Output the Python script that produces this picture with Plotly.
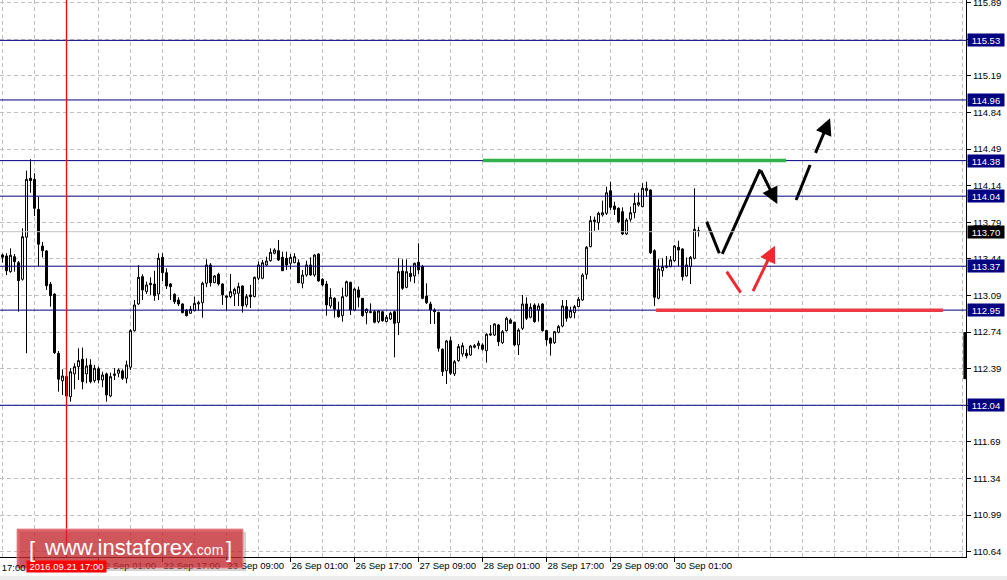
import plotly.graph_objects as go

# ---------------- data (USDJPY H1) ----------------
opens = [113.478, 113.468, 113.318, 113.461, 113.404, 113.245, 113.647, 114.211, 114.201, 113.914,
         113.563, 113.516, 113.197, 113.104, 112.537, 112.275, 112.314, 112.122, 112.340, 112.409,
         112.480, 112.340, 112.426, 112.275, 112.390, 112.282, 112.340, 112.129, 112.340, 112.346,
         112.368, 112.298, 112.404, 112.754, 113.009, 113.270, 113.127, 113.207, 113.200, 113.104,
         113.455, 113.308, 113.200, 113.102, 113.047, 113.009, 112.951, 112.920, 112.945, 113.009,
         113.021, 113.207, 113.382, 113.213, 113.293, 113.200, 113.085, 113.079, 113.104, 113.111,
         113.181, 113.000, 113.095, 113.079, 113.255, 113.255, 113.382, 113.423, 113.494, 113.519,
         113.455, 113.446, 113.398, 113.404, 113.404, 113.207, 113.286, 113.382, 113.286, 113.487,
         113.245, 113.200, 112.990, 113.063, 112.951, 112.897, 113.085, 113.216, 112.951, 113.143,
         113.063, 112.926, 112.935, 112.935, 112.840, 112.935, 112.840, 112.865, 112.935, 112.830,
         113.324, 113.168, 113.302, 113.277, 113.408, 113.366, 113.085, 113.009, 112.951, 112.929,
         112.576, 112.371, 112.658, 112.340, 112.467, 112.531, 112.537, 112.521, 112.595, 112.610,
         112.617, 112.562, 112.712, 112.712, 112.808, 112.639, 112.754, 112.856, 112.834, 112.617,
         112.776, 113.009, 112.882, 112.999, 112.951, 113.009, 112.754, 112.681, 112.639, 112.738,
         112.798, 112.983, 112.882, 112.926, 112.983, 113.047, 113.293, 113.557, 113.796, 113.786,
         113.860, 113.876, 114.092, 113.946, 113.924, 113.892, 113.678, 113.819, 113.882, 113.956,
         113.940, 114.092, 114.099, 113.519, 113.063, 113.327, 113.360, 113.366, 113.423, 113.551,
         113.535, 113.277, 113.366, 113.446, 113.710]
highs = [113.490, 113.494, 113.541, 113.487, 113.420, 113.733, 114.284, 114.393, 114.259, 114.035,
         113.602, 113.525, 113.219, 113.111, 112.559, 112.384, 112.346, 112.394, 112.442, 112.585,
         112.591, 112.489, 112.480, 112.426, 112.409, 112.361, 112.352, 112.352, 112.394, 112.394,
         112.384, 112.467, 112.767, 113.047, 113.379, 113.293, 113.222, 113.264, 113.327, 113.494,
         113.494, 113.350, 113.210, 113.110, 113.073, 113.015, 112.960, 112.990, 113.079, 113.040,
         113.222, 113.436, 113.400, 113.286, 113.308, 113.207, 113.090, 113.296, 113.165, 113.213,
         113.188, 113.104, 113.191, 113.270, 113.414, 113.430, 113.461, 113.541, 113.541, 113.621,
         113.509, 113.509, 113.487, 113.494, 113.436, 113.334, 113.423, 113.455, 113.484, 113.494,
         113.255, 113.229, 113.159, 113.073, 113.031, 113.165, 113.232, 113.222, 113.165, 113.175,
         113.063, 112.968, 113.015, 112.951, 112.951, 112.938, 112.904, 112.935, 112.945, 113.446,
         113.436, 113.436, 113.372, 113.404, 113.589, 113.382, 113.207, 113.031, 112.968, 112.935,
         112.585, 112.665, 112.696, 112.473, 112.626, 112.639, 112.576, 112.617, 112.626, 112.658,
         112.633, 112.729, 112.808, 112.824, 112.818, 112.760, 112.887, 112.872, 112.840, 112.776,
         113.095, 113.073, 113.015, 113.015, 113.015, 113.015, 112.760, 112.690, 112.751, 112.808,
         113.047, 113.047, 112.983, 112.999, 113.073, 113.302, 113.563, 113.851, 113.844, 113.892,
         113.997, 114.131, 114.178, 113.987, 113.933, 113.933, 113.828, 113.940, 114.067, 114.073,
         114.163, 114.178, 114.106, 113.532, 113.436, 113.446, 113.468, 113.468, 113.573, 113.614,
         113.541, 113.455, 113.468, 114.115, 113.748]
lows = [113.404, 113.286, 113.308, 113.318, 112.935, 113.232, 112.537, 114.073, 113.850, 113.372,
        113.455, 113.143, 112.983, 112.531, 112.170, 112.139, 112.122, 112.075, 112.193, 112.282,
        112.193, 112.250, 112.250, 112.256, 112.250, 112.212, 112.075, 112.117, 112.282, 112.308,
        112.282, 112.250, 112.378, 112.744, 112.999, 113.047, 113.104, 113.095, 113.040, 113.047,
        113.229, 113.152, 113.047, 113.009, 112.990, 112.920, 112.890, 112.913, 112.939, 112.945,
        112.878, 113.169, 113.175, 113.207, 113.184, 113.000, 112.951, 113.063, 112.990, 112.990,
        112.926, 112.977, 112.970, 113.073, 113.238, 113.245, 113.372, 113.413, 113.484, 113.420,
        113.324, 113.334, 113.341, 113.398, 113.207, 113.159, 113.270, 113.277, 113.270, 113.222,
        113.175, 112.897, 112.968, 112.878, 112.878, 112.840, 113.079, 112.904, 112.945, 112.977,
        112.887, 112.815, 112.920, 112.824, 112.824, 112.840, 112.834, 112.856, 112.499, 112.712,
        113.143, 113.159, 113.222, 113.207, 113.296, 113.054, 113.009, 112.818, 112.818, 112.553,
        112.320, 112.244, 112.330, 112.320, 112.457, 112.505, 112.489, 112.512, 112.585, 112.576,
        112.562, 112.448, 112.703, 112.703, 112.607, 112.626, 112.744, 112.818, 112.607, 112.521,
        112.760, 112.856, 112.872, 112.830, 112.840, 112.744, 112.610, 112.515, 112.626, 112.728,
        112.786, 112.840, 112.872, 112.872, 112.977, 113.040, 113.245, 113.551, 113.710, 113.717,
        113.844, 113.860, 113.908, 113.860, 113.781, 113.669, 113.669, 113.796, 113.828, 113.940,
        113.933, 114.035, 113.487, 112.990, 113.054, 113.270, 113.350, 113.360, 113.413, 113.372,
        113.232, 113.270, 113.200, 113.436, 113.652]
closes = [113.456, 113.327, 113.475, 113.413, 113.232, 113.652, 114.201, 114.188, 113.924, 113.580,
          113.519, 113.184, 113.088, 112.543, 112.289, 112.320, 112.129, 112.361, 112.409, 112.467,
          112.266, 112.416, 112.266, 112.394, 112.282, 112.330, 112.139, 112.314, 112.327, 112.378,
          112.298, 112.426, 112.754, 112.999, 113.264, 113.143, 113.191, 113.194, 113.088, 113.446,
          113.308, 113.181, 113.174, 113.031, 113.009, 112.926, 112.897, 112.958, 113.015, 113.021,
          113.207, 113.382, 113.213, 113.277, 113.200, 113.095, 113.073, 113.127, 113.149, 113.175,
          112.990, 113.079, 113.079, 113.264, 113.382, 113.404, 113.420, 113.503, 113.525, 113.430,
          113.327, 113.382, 113.455, 113.461, 113.213, 113.286, 113.382, 113.286, 113.477, 113.229,
          113.191, 112.999, 113.073, 112.958, 112.887, 113.079, 113.222, 112.951, 113.152, 113.073,
          112.897, 112.958, 112.929, 112.834, 112.942, 112.849, 112.882, 112.920, 112.824, 113.318,
          113.159, 113.318, 113.270, 113.398, 113.334, 113.063, 113.021, 112.951, 112.935, 112.585,
          112.362, 112.655, 112.346, 112.457, 112.601, 112.610, 112.514, 112.607, 112.610, 112.633,
          112.576, 112.719, 112.722, 112.818, 112.648, 112.744, 112.872, 112.824, 112.617, 112.760,
          113.009, 112.872, 112.977, 112.840, 112.990, 112.754, 112.665, 112.633, 112.744, 112.792,
          112.990, 112.872, 112.945, 112.983, 113.054, 113.286, 113.551, 113.806, 113.812, 113.876,
          113.882, 114.073, 113.933, 113.914, 113.796, 113.678, 113.812, 113.882, 113.972, 113.978,
          114.115, 114.115, 113.499, 113.073, 113.344, 113.366, 113.372, 113.430, 113.563, 113.525,
          113.270, 113.382, 113.455, 113.723, 113.704]
bars = list(range(len(opens)))

edge_bar_index = 240.6
edge_bar_prices = [112.29, 112.74]

y_tick_values = [110.64, 110.99, 111.34, 111.69, 112.04, 112.39, 112.74, 113.09,
                 113.44, 113.79, 114.14, 114.49, 114.84, 115.19, 115.54, 115.89]
y_tick_labels = ["110.64", "110.99", "111.34", "111.69", "112.04", "112.39", "112.74", "113.09",
                 "113.44", "113.79", "114.14", "114.49", "114.84", "115.19", "115.54", "115.89"]
x_tick_bars = [8, 24, 40, 56, 72, 88, 104, 120, 136, 152, 168]
x_tick_labels = ["21 Sep 09:00", "22 Sep 01:00", "22 Sep 17:00", "23 Sep 09:00", "26 Sep 01:00",
                 "26 Sep 17:00", "27 Sep 09:00", "28 Sep 01:00", "28 Sep 17:00", "29 Sep 09:00",
                 "30 Sep 01:00"]
offscreen_label = "20 Sep 17:00"

level_prices = [115.53, 114.96, 114.38, 114.04, 113.37, 112.95, 112.04]
level_labels = ["115.53", "114.96", "114.38", "114.04", "113.37", "112.95", "112.04"]
bid_price = 113.70
bid_label = "113.70"
cursor_bar = 16
cursor_label = "2016.09.21 17:00"

green_level = 114.38
green_bars = [120.1, 195.9]
red_level = 112.95
red_bars = [163.4, 235.1]

# forecast drawings (bar, price)
black_leg1 = ([176.05, 179.2], [113.796, 113.494])
black_leg2 = ([179.95, 189.4], [113.487, 114.297])
black_head = (189.4, 114.297, 193.7, 113.965)      # tail bar, tail price, head bar, head price
black_dash = ([198.4, 201.9], [114.003, 114.338])
black_head2 = (203.1, 114.440, 206.9, 114.785)
red_leg = ([181.05, 184.55], [113.318, 113.117])
red_head = (187.45, 113.117, 193.1, 113.566)

# ---------------- figure ----------------
FONT = "Liberation Sans, Arial, sans-serif"
FS = 9.5
NAVY = "#000080"
GRID = "#c0c0c0"
PLOT_W, PLOT_H = 966, 557

fig = go.Figure()

fig.add_trace(go.Candlestick(
    x=bars, open=opens, high=highs, low=lows, close=closes,
    increasing=dict(line=dict(color="black", width=1), fillcolor="white"),
    decreasing=dict(line=dict(color="black", width=1), fillcolor="black"),
    whiskerwidth=0, hoverinfo="skip", showlegend=False,
))
fig.add_trace(go.Scatter(x=[edge_bar_index, edge_bar_index], y=edge_bar_prices, mode="lines",
                         line=dict(color="black", width=3), hoverinfo="skip", showlegend=False))

# forecast legs
for xs, ys, col in [(black_leg1[0], black_leg1[1], "black"),
                    (black_leg2[0], black_leg2[1], "black"),
                    (black_dash[0], black_dash[1], "black"),
                    (red_leg[0], red_leg[1], "#ee2a30")]:
    fig.add_trace(go.Scatter(x=xs, y=ys, mode="lines", line=dict(color=col, width=3),
                             hoverinfo="skip", showlegend=False))

shapes = []
for p in level_prices:
    shapes.append(dict(type="line", xref="paper", x0=0, x1=1, yref="y", y0=p, y1=p,
                       line=dict(color=NAVY, width=1)))
shapes.append(dict(type="line", xref="paper", x0=0, x1=1, yref="y", y0=bid_price, y1=bid_price,
                   line=dict(color=GRID, width=1)))
shapes.append(dict(type="line", xref="x", x0=green_bars[0], x1=green_bars[1], yref="y",
                   y0=green_level, y1=green_level, line=dict(color="#33b24c", width=3.5)))
shapes.append(dict(type="line", xref="x", x0=red_bars[0], x1=red_bars[1], yref="y",
                   y0=red_level, y1=red_level, line=dict(color="#ee3a44", width=3.5)))
shapes.append(dict(type="line", xref="x", x0=cursor_bar, x1=cursor_bar, yref="paper", y0=0, y1=1,
                   line=dict(color="#ff0000", width=1.3)))
# window bottom strip
shapes.append(dict(type="rect", xref="paper", x0=0, x1=1007 / PLOT_W, yref="paper",
                   y0=-(580 - PLOT_H) / PLOT_H, y1=-(576 - PLOT_H) / PLOT_H,
                   fillcolor="#ececec", line=dict(width=0), layer="above"))


def px_x(v):
    return v / PLOT_W


def px_y(v):
    return 1 - v / PLOT_H


# logo box (shadow + box)
shapes.append(dict(type="rect", xref="paper", yref="paper", x0=px_x(20), x1=px_x(246),
                   y0=px_y(571), y1=px_y(532), fillcolor="rgba(0,0,0,0.18)", line=dict(width=0),
                   layer="above"))
shapes.append(dict(type="rect", xref="paper", yref="paper", x0=px_x(17), x1=px_x(243),
                   y0=px_y(568), y1=px_y(529), fillcolor="rgba(205,45,52,0.75)",
                   line=dict(color="rgba(235,140,145,0.9)", width=1), layer="above"))

annotations = []
for p, t in zip(level_prices, level_labels):
    annotations.append(dict(xref="paper", x=1, xanchor="left", xshift=1, yref="y", y=p,
                            yanchor="middle", text=t, showarrow=False, bgcolor=NAVY,
                            font=dict(family=FONT, size=FS, color="white"), width=36, height=12,
                            borderpad=0))
annotations.append(dict(xref="paper", x=1, xanchor="left", xshift=1, yref="y", y=bid_price,
                        yanchor="middle", text=bid_label, showarrow=False, bgcolor="black",
                        font=dict(family=FONT, size=FS, color="white"), width=36, height=12,
                        borderpad=0))
# off-screen first time label
annotations.append(dict(xref="paper", x=(2.5 + 4 * (-8)) / PLOT_W - 4 / PLOT_W, xanchor="left",
                        yref="paper", y=-(567 - PLOT_H) / PLOT_H, yanchor="middle",
                        text=offscreen_label, showarrow=False,
                        font=dict(family=FONT, size=FS, color="black")))
annotations.append(dict(xref="x", x=cursor_bar, xanchor="center", yref="paper",
                        y=-(566.5 - PLOT_H) / PLOT_H, yanchor="middle", text=cursor_label,
                        showarrow=False, bgcolor="#ff0000",
                        font=dict(family=FONT, size=FS, color="white"), width=79, height=11,
                        borderpad=0))
# arrow heads
for (tx, ty, hx, hy), col in [(black_head, "black"), (black_head2, "black"), (red_head, "#ee2a30")]:
    annotations.append(dict(xref="x", yref="y", x=hx, y=hy, axref="x", ayref="y", ax=tx, ay=ty,
                            text="", showarrow=True, arrowhead=2, arrowsize=1.1, arrowwidth=3,
                            arrowcolor=col, standoff=0, startstandoff=0))
# logo text
annotations.append(dict(xref="paper", yref="paper", x=px_x(27), xanchor="left", y=px_y(549),
                        yanchor="middle", text="[", showarrow=False,
                        font=dict(family=FONT, size=22, color="white")))
annotations.append(dict(xref="paper", yref="paper", x=px_x(224), xanchor="left", y=px_y(549),
                        yanchor="middle", text="]", showarrow=False,
                        font=dict(family=FONT, size=22, color="white")))
annotations.append(dict(xref="paper", yref="paper", x=px_x(42), xanchor="left", y=px_y(547),
                        yanchor="middle",
                        text="www.instaforex<span style='font-size:14px'>.com</span>",
                        showarrow=False, font=dict(family=FONT, size=22, color="white")))

fig.update_layout(
    width=1007, height=580,
    margin=dict(l=0, r=1007 - PLOT_W, t=0, b=580 - PLOT_H, autoexpand=False),
    paper_bgcolor="white", plot_bgcolor="white",
    showlegend=False, hovermode=False,
    shapes=shapes, annotations=annotations,
    xaxis=dict(
        range=[-0.625, 240.875], rangeslider=dict(visible=False),
        tickmode="array", tickvals=x_tick_bars, ticktext=x_tick_labels, tickangle=0,
        ticks="outside", ticklen=4, tickcolor="black", ticklabelposition="outside right",
        ticklabeloverflow="allow",
        tickfont=dict(family=FONT, size=FS, color="black"),
        showgrid=True, gridcolor=GRID, griddash="4px,3px", gridwidth=1,
        minor=dict(tickmode="linear", tick0=0, dtick=8, showgrid=True, gridcolor=GRID,
                   griddash="4px,3px", gridwidth=1, ticks=""),
        showline=True, linecolor="black", linewidth=1, zeroline=False, fixedrange=True,
    ),
    yaxis=dict(
        range=[110.589, 115.916], side="right",
        tickmode="array", tickvals=y_tick_values, ticktext=y_tick_labels,
        ticks="outside", ticklen=4, tickcolor="black", ticklabeloverflow="allow",
        tickfont=dict(family=FONT, size=FS, color="black"),
        showgrid=True, gridcolor=GRID, griddash="4px,3px", gridwidth=1,
        showline=True, linecolor="black", linewidth=1, zeroline=False, fixedrange=True,
    ),
)

fig.write_html("out.html", include_plotlyjs=True, config={"displayModeBar": False},
               post_script="document.body.style.margin='0';document.body.style.padding='0';")
